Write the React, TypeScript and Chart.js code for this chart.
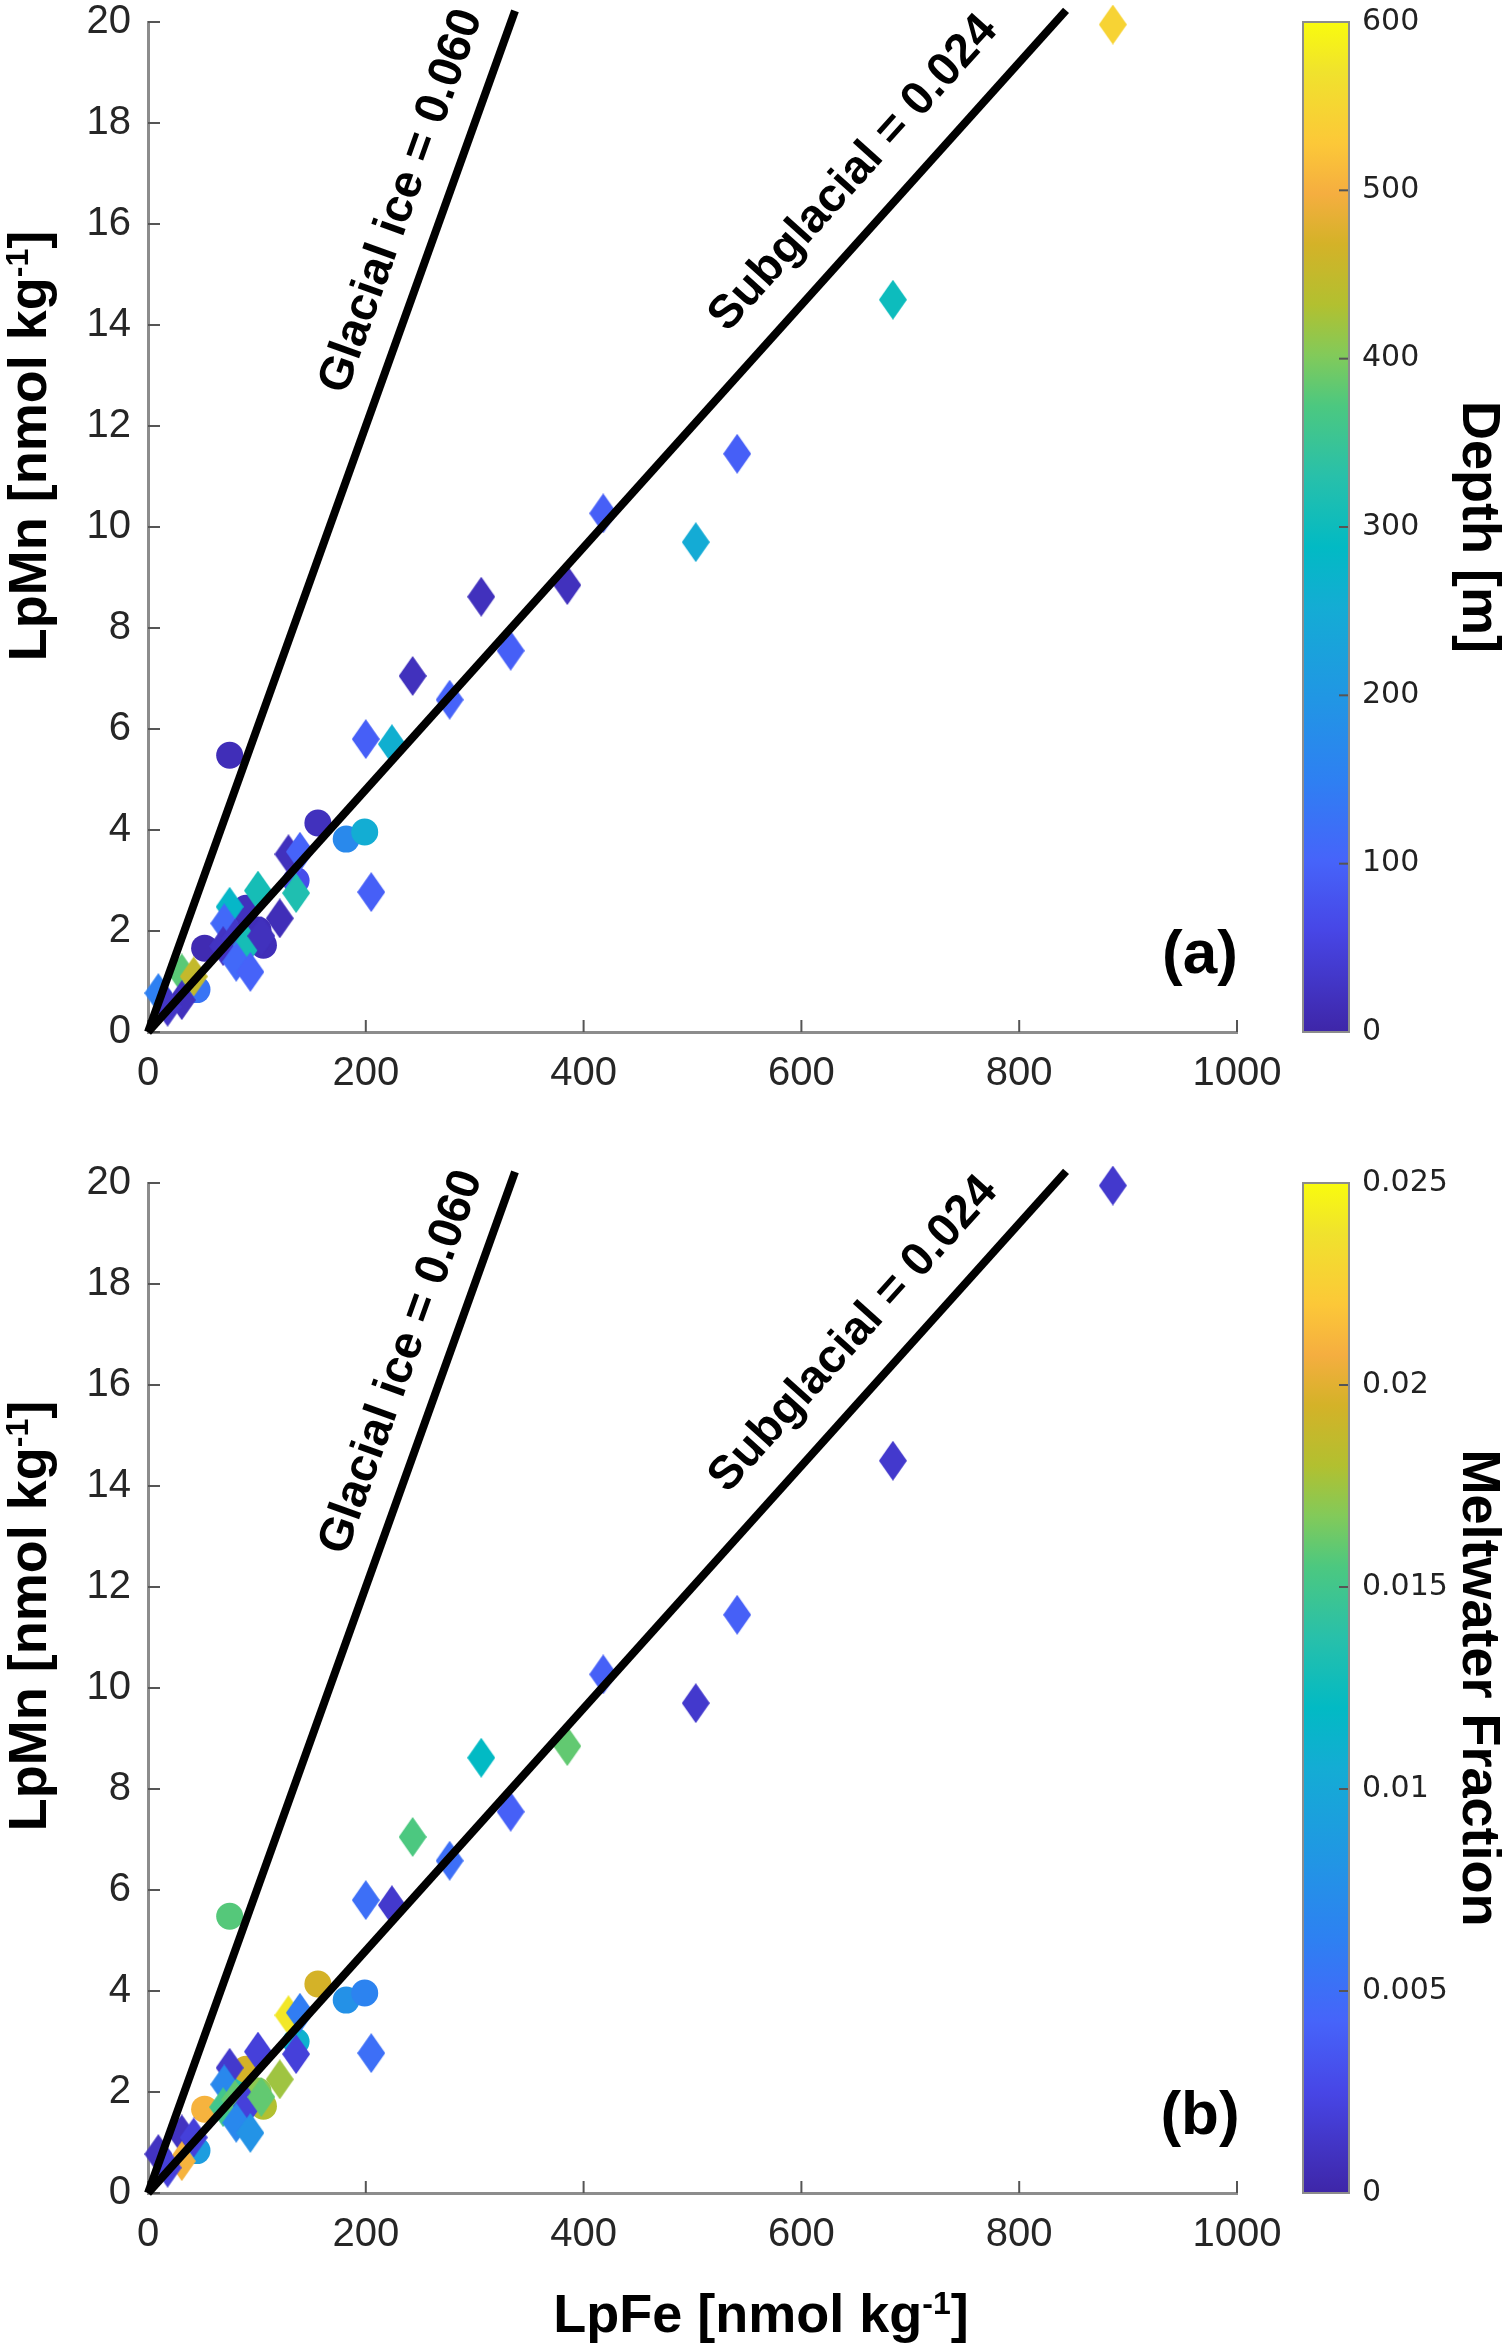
import { useEffect, useRef } from 'react';
import { Chart, registerables } from 'chart.js';

Chart.register(...registerables);

// samples plotted as circles
const circleFe = [75, 156, 182, 199, 136, 52, 87, 90, 101, 106, 45];
const circleMn = [5.48, 4.14, 3.82, 3.96, 3.0, 1.66, 2.36, 2.45, 2.02, 1.72, 0.84];
const circleDepth = [15, 20, 170, 255, 70, 10, 15, 20, 15, 15, 130];
const circleMelt = [0.0157, 0.0195, 0.0078, 0.0065, 0.011, 0.021, 0.014, 0.0195, 0.017, 0.018, 0.009];

// samples plotted as diamonds
const diamondFe = [886, 684, 541, 418, 503, 306, 385, 333, 243, 277, 200, 224, 205, 129, 139.5, 75, 101, 136, 121, 70, 69, 80, 91, 104, 81, 94, 31, 42, 31, 9.5, 18];
const diamondMn = [19.95, 14.5, 11.45, 10.27, 9.7, 8.62, 8.85, 7.55, 7.05, 6.58, 5.8, 5.7, 2.77, 3.52, 3.57, 2.48, 2.8, 2.75, 2.25, 2.15, 1.7, 1.85, 1.72, 1.9, 1.39, 1.19, 1.16, 1.1, 0.63, 0.77, 0.5];
const diamondDepth = [545, 300, 95, 95, 250, 20, 20, 95, 20, 100, 95, 260, 95, 20, 100, 280, 310, 320, 15, 110, 25, 30, 310, 20, 110, 100, 380, 450, 20, 150, 30];
const diamondMelt = [0.0015, 0.0015, 0.004, 0.004, 0.0015, 0.012, 0.016, 0.004, 0.0155, 0.005, 0.005, 0.0015, 0.005, 0.024, 0.006, 0.0015, 0.002, 0.002, 0.0175, 0.007, 0.015, 0.016, 0.002, 0.016, 0.007, 0.008, 0.001, 0.002, 0.021, 0.001, 0.002];

// end-member mixing lines
const glacialFe = [0, 337];
const glacialMn = [0, 20.22];
const subglacialFe = [0, 843];
const subglacialMn = [0, 20.23];
const mixingLabels = ['Glacial ice = 0.060', 'Subglacial = 0.024'];
const mixingSlopes = [0.06, 0.024];
const labelFe = [233, 648];
const labelMn = [16.45, 17.0];

// colorbars
const depthTicks = ['0', '100', '200', '300', '400', '500', '600'];
const meltTicks = ['0', '0.005', '0.01', '0.015', '0.02', '0.025'];

// parula-like colormap
const parulaPos = [0, 0.1, 0.17, 0.25, 0.33, 0.42, 0.48, 0.55, 0.62, 0.67, 0.72, 0.78, 0.83, 0.88, 0.95, 1];
const parulaRgb = [
  [62, 38, 168], [71, 70, 230], [70, 100, 250], [46, 128, 242], [33, 150, 228], [20, 172, 212],
  [2, 186, 196], [40, 192, 170], [76, 200, 128], [130, 202, 90], [178, 192, 48], [212, 178, 40],
  [245, 174, 64], [252, 200, 56], [240, 226, 45], [249, 251, 14]
];

const SANS = '"Liberation Sans", Arial, Helvetica, sans-serif';

function parula(t: number) {
  const v = Math.min(1, Math.max(0, t));
  let i = 0;
  while (i < parulaPos.length - 2 && v > parulaPos[i + 1]) i++;
  const f = (v - parulaPos[i]) / (parulaPos[i + 1] - parulaPos[i]);
  const a = parulaRgb[i], b = parulaRgb[i + 1];
  const c = a.map((ch, k) => Math.round(ch + (b[k] - ch) * f));
  return `rgb(${c[0]}, ${c[1]}, ${c[2]})`;
}

const diamondCache = new Map<string, HTMLCanvasElement>();
function diamond(color: string) {
  let c = diamondCache.get(color);
  if (!c) {
    c = document.createElement('canvas');
    c.width = 28;
    c.height = 40;
    const g = c.getContext('2d')!;
    g.fillStyle = color;
    g.beginPath();
    g.moveTo(14, 0);
    g.lineTo(28, 20);
    g.lineTo(14, 40);
    g.lineTo(0, 20);
    g.closePath();
    g.fill();
    diamondCache.set(color, c);
  }
  return c;
}

function drawSupLabel(ctx: CanvasRenderingContext2D, cx: number, cy: number, rot: number, base: string, sup: string, tail: string) {
  const big = `bold 54px ${SANS}`;
  const small = `bold 32px ${SANS}`;
  ctx.save();
  ctx.translate(cx, cy);
  ctx.rotate(rot);
  ctx.fillStyle = '#000';
  ctx.textAlign = 'left';
  ctx.textBaseline = 'alphabetic';
  ctx.font = big;
  const w1 = ctx.measureText(base).width;
  const w3 = ctx.measureText(tail).width;
  ctx.font = small;
  const w2 = ctx.measureText(sup).width;
  let x = -(w1 + w2 + w3) / 2;
  ctx.font = big;
  ctx.fillText(base, x, 19);
  x += w1;
  ctx.font = small;
  ctx.fillText(sup, x, 1);
  x += w2;
  ctx.font = big;
  ctx.fillText(tail, x, 19);
  ctx.restore();
}

const inwardTicks = {
  id: 'inwardTicks',
  beforeDatasetsDraw(chart: any) {
    const { ctx, chartArea: a, scales } = chart;
    const { x, y } = scales;
    ctx.save();
    ctx.strokeStyle = '#555';
    ctx.lineWidth = 2;
    x.ticks.forEach((t: any) => {
      const px = x.getPixelForValue(t.value);
      ctx.beginPath();
      ctx.moveTo(px, a.bottom);
      ctx.lineTo(px, a.bottom - 12);
      ctx.stroke();
    });
    y.ticks.forEach((t: any) => {
      const py = y.getPixelForValue(t.value);
      ctx.beginPath();
      ctx.moveTo(a.left, py);
      ctx.lineTo(a.left + 12, py);
      ctx.stroke();
    });
    ctx.restore();
  }
};

function textPlugin(tag: string, yTitleY: number, xTitleY: number | null) {
  return {
    id: 'panelText',
    afterDatasetsDraw(chart: any) {
      const { ctx, scales } = chart;
      const { x, y } = scales;
      const x0 = x.getPixelForValue(0);
      const y0 = y.getPixelForValue(0);
      ctx.save();
      ctx.fillStyle = '#000';
      ctx.textAlign = 'center';
      ctx.textBaseline = 'middle';
      ctx.font = `bold 47px ${SANS}`;
      mixingLabels.forEach((label, i) => {
        const ang = Math.atan2(y.getPixelForValue(mixingSlopes[i] * 100) - y0, x.getPixelForValue(100) - x0);
        ctx.save();
        ctx.translate(x.getPixelForValue(labelFe[i]), y.getPixelForValue(labelMn[i]));
        ctx.rotate(ang);
        ctx.fillText(label, 0, 0);
        ctx.restore();
      });
      ctx.font = `bold 62px ${SANS}`;
      ctx.fillText(tag, x.getPixelForValue(966), y.getPixelForValue(1.5));
      ctx.restore();
      drawSupLabel(ctx, 27, yTitleY, -Math.PI / 2, 'LpMn [nmol kg', '-1', ']');
      if (xTitleY !== null) drawSupLabel(ctx, 761, xTitleY, 0, 'LpFe [nmol kg', '-1', ']');
    }
  };
}

type PanelProps = {
  height: number;
  padTop: number;
  axisH: number;
  colorVar: 'depth' | 'melt';
  tag: string;
  yTitleY: number;
  xTitleY: number | null;
};

function ScatterPanel({ height, padTop, axisH, colorVar, tag, yTitleY, xTitleY }: PanelProps) {
  const canvasRef = useRef<HTMLCanvasElement>(null);
  const chartRef = useRef<Chart | null>(null);

  useEffect(() => {
    if (!canvasRef.current) return;
    if (chartRef.current) chartRef.current.destroy();

    const toColor = (v: number) => (colorVar === 'depth' ? parula(v / 600) : parula(v / 0.025));
    const circleColors = (colorVar === 'depth' ? circleDepth : circleMelt).map(toColor);
    const diamondColors = (colorVar === 'depth' ? diamondDepth : diamondMelt).map(toColor);
    const tickFont = { family: SANS, size: 40 };

    chartRef.current = new Chart(canvasRef.current, {
      type: 'scatter',
      data: {
        datasets: [
          {
            data: glacialFe.map((x, i) => ({ x, y: glacialMn[i] })),
            showLine: true,
            borderColor: '#000',
            borderWidth: 8,
            pointRadius: 0,
            clip: false,
            order: 0
          },
          {
            data: subglacialFe.map((x, i) => ({ x, y: subglacialMn[i] })),
            showLine: true,
            borderColor: '#000',
            borderWidth: 8,
            pointRadius: 0,
            clip: false,
            order: 0
          },
          {
            data: diamondFe.map((x, i) => ({ x, y: diamondMn[i] })),
            pointStyle: (ctx: any) => diamond(diamondColors[ctx.dataIndex] || '#000'),
            pointRadius: 14,
            pointHoverRadius: 14,
            pointBorderWidth: 0,
            clip: false,
            order: 1
          },
          {
            data: circleFe.map((x, i) => ({ x, y: circleMn[i] })),
            pointStyle: 'circle',
            pointRadius: 13.5,
            pointHoverRadius: 13.5,
            pointBackgroundColor: circleColors,
            pointBorderWidth: 0,
            clip: false,
            order: 2
          }
        ]
      } as any,
      options: {
        responsive: false,
        animation: false,
        devicePixelRatio: 1,
        events: [],
        layout: { padding: { top: padTop, right: 53, left: 0, bottom: 0 } },
        plugins: { legend: { display: false }, tooltip: { enabled: false } },
        scales: {
          x: {
            type: 'linear',
            min: 0,
            max: 1000,
            ticks: { stepSize: 200, font: tickFont, color: '#262626', padding: 18, maxRotation: 0, callback: (v: any) => String(v) },
            grid: { display: false, drawTicks: false },
            border: { display: true, color: '#8c8c8c', width: 3 },
            afterFit: (s: any) => {
              s.height = axisH;
              s.paddingLeft = 0;
              s.paddingRight = 0;
            }
          },
          y: {
            type: 'linear',
            min: 0,
            max: 20,
            ticks: { stepSize: 2, font: tickFont, color: '#262626', padding: 17, callback: (v: any) => String(v) },
            grid: { display: false, drawTicks: false },
            border: { display: true, color: '#8c8c8c', width: 3 },
            afterFit: (s: any) => {
              s.width = 148;
              s.paddingTop = 0;
              s.paddingBottom = 0;
            }
          }
        }
      } as any,
      plugins: [inwardTicks, textPlugin(tag, yTitleY, xTitleY)]
    });

    return () => {
      if (chartRef.current) {
        chartRef.current.destroy();
        chartRef.current = null;
      }
    };
  }, [height, padTop, axisH, colorVar, tag, yTitleY, xTitleY]);

  return <canvas ref={canvasRef} width={1290} height={height} style={{ display: 'block' }} />;
}

type BarProps = {
  height: number;
  padTop: number;
  padBottom: number;
  max: number;
  step: number;
  labels: string[];
  title: string;
};

const colorbarFrame = {
  id: 'colorbarFrame',
  afterDraw(chart: any) {
    const { ctx, chartArea: a, scales } = chart;
    const y = scales.y;
    ctx.save();
    ctx.strokeStyle = '#555';
    ctx.lineWidth = 2;
    y.ticks.forEach((t: any, i: number) => {
      if (i === 0 || i === y.ticks.length - 1) return;
      const py = y.getPixelForValue(t.value);
      ctx.beginPath();
      ctx.moveTo(a.right - 10, py);
      ctx.lineTo(a.right, py);
      ctx.stroke();
    });
    ctx.strokeStyle = '#8c8c8c';
    ctx.strokeRect(a.left, a.top, a.right - a.left, a.bottom - a.top);
    ctx.restore();
  }
};

function ColorBar({ height, padTop, padBottom, max, step, labels, title }: BarProps) {
  const canvasRef = useRef<HTMLCanvasElement>(null);
  const chartRef = useRef<Chart | null>(null);

  useEffect(() => {
    if (!canvasRef.current) return;
    if (chartRef.current) chartRef.current.destroy();

    chartRef.current = new Chart(canvasRef.current, {
      type: 'bar',
      data: {
        labels: [''],
        datasets: [
          {
            data: [max],
            backgroundColor: (c: any) => {
              const a = c.chart.chartArea;
              if (!a) return '#3e26a8';
              const g = c.chart.ctx.createLinearGradient(0, a.bottom, 0, a.top);
              parulaPos.forEach((p) => g.addColorStop(p, parula(p)));
              return g;
            },
            borderWidth: 0,
            barPercentage: 1,
            categoryPercentage: 1
          }
        ]
      },
      options: {
        responsive: false,
        animation: false,
        devicePixelRatio: 1,
        events: [],
        layout: { padding: { left: 13, top: padTop, bottom: padBottom, right: 0 } },
        plugins: { legend: { display: false }, tooltip: { enabled: false } },
        scales: {
          x: { display: false },
          y: {
            position: 'right',
            min: 0,
            max,
            ticks: {
              stepSize: step,
              callback: (_v: any, i: number) => labels[i],
              font: { family: '"DejaVu Sans", Verdana, sans-serif', size: 30 },
              color: '#222',
              padding: 13
            },
            grid: { display: false, drawTicks: false },
            border: { display: false },
            title: {
              display: true,
              text: title,
              color: '#000',
              padding: 0,
              font: { family: SANS, size: 54, weight: 'bold', lineHeight: 1 }
            },
            afterFit: (s: any) => {
              s.width = 156;
              s.paddingTop = 0;
              s.paddingBottom = 0;
            }
          }
        }
      } as any,
      plugins: [colorbarFrame]
    });

    return () => {
      if (chartRef.current) {
        chartRef.current.destroy();
        chartRef.current = null;
      }
    };
  }, [height, padTop, padBottom, max, step, labels, title]);

  return <canvas ref={canvasRef} width={215} height={height} style={{ display: 'block' }} />;
}

export default function App() {
  return (
    <div style={{ position: 'absolute', left: 0, top: 0, width: 1505, height: 2343, background: '#fff' }}>
      <div style={{ position: 'absolute', left: 0, top: 0 }}>
        <ScatterPanel height={1120} padTop={22} axisH={88} colorVar="depth" tag="(a)" yTitleY={446} xTitleY={null} />
      </div>
      <div style={{ position: 'absolute', left: 1290, top: 0 }}>
        <ColorBar height={1120} padTop={22} padBottom={88} max={600} step={100} labels={depthTicks} title="Depth [m]" />
      </div>
      <div style={{ position: 'absolute', left: 0, top: 1150 }}>
        <ScatterPanel height={1193} padTop={33} axisH={150} colorVar="melt" tag="(b)" yTitleY={466} xTitleY={1163} />
      </div>
      <div style={{ position: 'absolute', left: 1290, top: 1150 }}>
        <ColorBar height={1193} padTop={33} padBottom={150} max={0.025} step={0.005} labels={meltTicks} title="Meltwater Fraction" />
      </div>
    </div>
  );
}
